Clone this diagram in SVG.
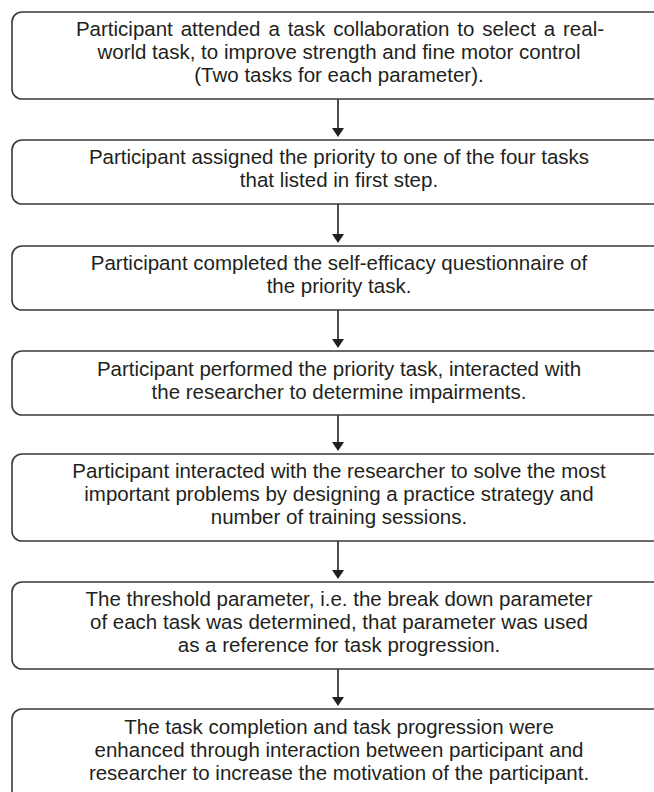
<svg xmlns="http://www.w3.org/2000/svg" width="654" height="792" viewBox="0 0 654 792">
<style>
.box{fill:#fff;stroke:#3a3a3a;stroke-width:1.6}
.t{font-family:"Liberation Sans",Arial,sans-serif;font-size:20.5px;fill:#231f20;text-anchor:middle}
.c{stroke:#231f20;stroke-width:1.6;fill:none}
.h{fill:#231f20}
</style>
<rect width="654" height="792" fill="#fff"/>
<g id="connectors">
<line class="c" x1="338" y1="99" x2="338" y2="129"/><polygon class="h" points="332,128 344,128 338,137"/>
<line class="c" x1="338" y1="204" x2="338" y2="235"/><polygon class="h" points="332,234 344,234 338,243"/>
<line class="c" x1="338" y1="310" x2="338" y2="340"/><polygon class="h" points="332,339 344,339 338,348"/>
<line class="c" x1="338" y1="415" x2="338" y2="443"/><polygon class="h" points="332,442 344,442 338,451"/>
<line class="c" x1="338" y1="541" x2="338" y2="571"/><polygon class="h" points="332,570 344,570 338,579"/>
<line class="c" x1="338" y1="669" x2="338" y2="698"/><polygon class="h" points="332,697 344,697 338,706"/>
</g>
<g id="n1"><rect class="box" x="12" y="12" width="660" height="87" rx="10"/>
<text class="t" x="340" y="36" word-spacing="2.2">Participant attended a task collaboration to select a real-</text>
<text class="t" x="339" y="59">world task, to improve strength and fine motor control</text>
<text class="t" x="339" y="82">(Two tasks for each parameter).</text></g>
<g id="n2"><rect class="box" x="12" y="140" width="660" height="64" rx="10"/>
<text class="t" x="339" y="164">Participant assigned the priority to one of the four tasks</text>
<text class="t" x="339" y="187">that listed in first step.</text></g>
<g id="n3"><rect class="box" x="12" y="246" width="660" height="64" rx="10"/>
<text class="t" x="339" y="270">Participant completed the self-efficacy questionnaire of</text>
<text class="t" x="339" y="293">the priority task.</text></g>
<g id="n4"><rect class="box" x="12" y="351" width="660" height="64" rx="10"/>
<text class="t" x="339" y="376">Participant performed the priority task, interacted with</text>
<text class="t" x="339" y="399">the researcher to determine impairments.</text></g>
<g id="n5"><rect class="box" x="12" y="454" width="660" height="87" rx="10"/>
<text class="t" x="339" y="478">Participant interacted with the researcher to solve the most</text>
<text class="t" x="339" y="501">important problems by designing a practice strategy and</text>
<text class="t" x="339" y="524">number of training sessions.</text></g>
<g id="n6"><rect class="box" x="12" y="582" width="660" height="87" rx="10"/>
<text class="t" x="339" y="606">The threshold parameter, i.e. the break down parameter</text>
<text class="t" x="339" y="629">of each task was determined, that parameter was used</text>
<text class="t" x="339" y="652">as a reference for task progression.</text></g>
<g id="n7"><rect class="box" x="12" y="709" width="660" height="100" rx="10"/>
<text class="t" x="339" y="734">The task completion and task progression were</text>
<text class="t" x="339" y="757">enhanced through interaction between participant and</text>
<text class="t" x="339" y="780">researcher to increase the motivation of the participant.</text></g>
</svg>
